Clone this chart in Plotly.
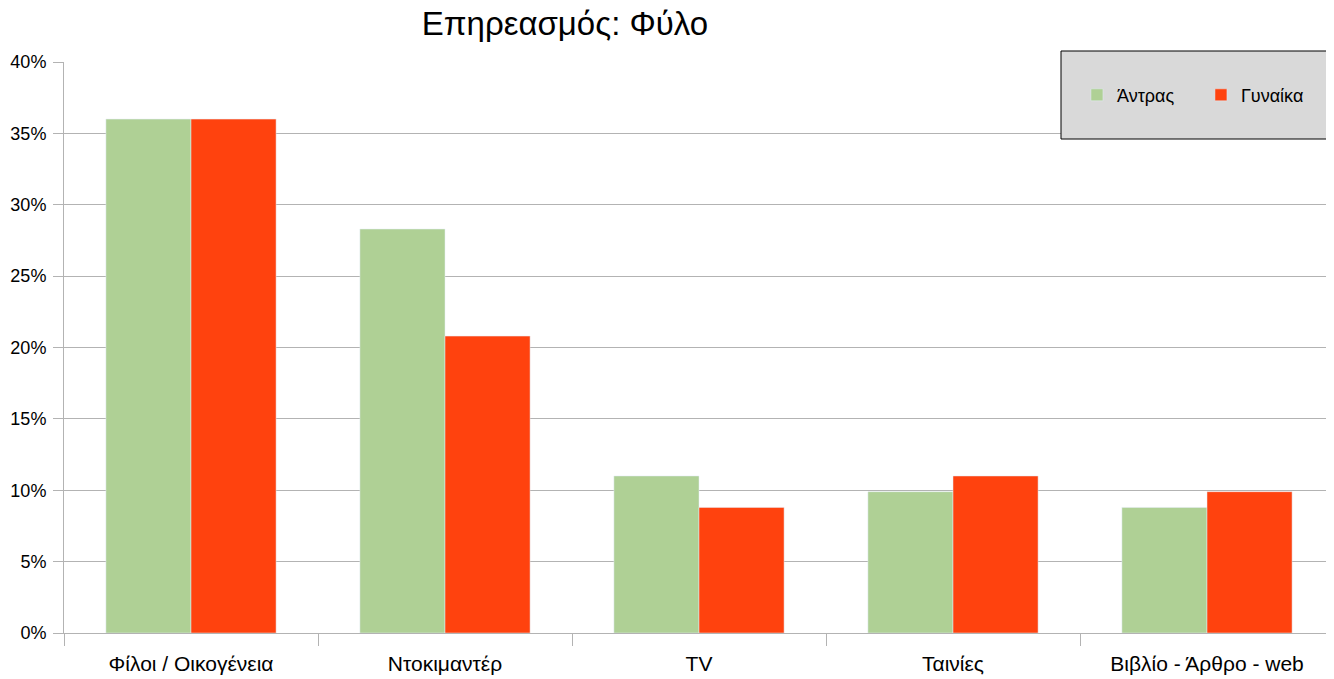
import plotly.graph_objects as go

categories = ['Φίλοι / Οικογένεια', 'Ντοκιμαντέρ', 'TV', 'Ταινίες', 'Βιβλίο - Άρθρο - web']
men = [0.36, 0.283, 0.11, 0.099, 0.088]
women = [0.36, 0.208, 0.088, 0.11, 0.099]

font = 'Liberation Sans, Arial, sans-serif'

fig = go.Figure()
fig.add_trace(go.Bar(x=categories, y=men, name='Άντρας', marker_color='#afd095'))
fig.add_trace(go.Bar(x=categories, y=women, name='Γυναίκα', marker_color='#ff420e'))

fig.update_layout(
    width=1326, height=671,
    margin=dict(l=56, r=0, t=54, b=46, autoexpand=False),
    plot_bgcolor='white', paper_bgcolor='white',
    font=dict(family=font, size=16, color='black'),
    title=dict(text='Επηρεασμός: Φύλο', x=557 / 1326, xanchor='center',
               y=1 - 4 / 671, yanchor='top', pad=dict(t=0, b=0, l=0, r=0), font=dict(size=33)),
    barmode='group', bargap=0.33, bargroupgap=0,
    legend=dict(orientation='h', x=0.7976, xanchor='left', y=0.942, yanchor='middle',
                bgcolor='rgba(0,0,0,0)', font=dict(size=18), entrywidth=79,
                traceorder='normal'),
    shapes=[dict(type='rect', xref='paper', yref='paper',
                 x0=(1061 - 64) / 1270, x1=(1333 - 64) / 1270,
                 y0=(633 - 139) / 571, y1=(633 - 51) / 571,
                 fillcolor='#d9d9d9', line=dict(color='black', width=1), layer='above')],
)
fig.update_yaxes(range=[0, 0.4], dtick=0.05, tickformat='.0%', showgrid=True,
                 gridcolor='#b3b3b3', showline=True, linecolor='#b3b3b3',
                 ticks='outside', ticklen=10, tickcolor='#b3b3b3', zeroline=False,
                 tickfont=dict(size=18), ticklabelstandoff=3)
fig.update_xaxes(showline=True, linecolor='#b3b3b3', ticks='outside', tickson='boundaries',
                 ticklen=12, tickcolor='#b3b3b3', tickfont=dict(size=21),
                 ticklabelstandoff=12)

fig.write_html('out.html')
